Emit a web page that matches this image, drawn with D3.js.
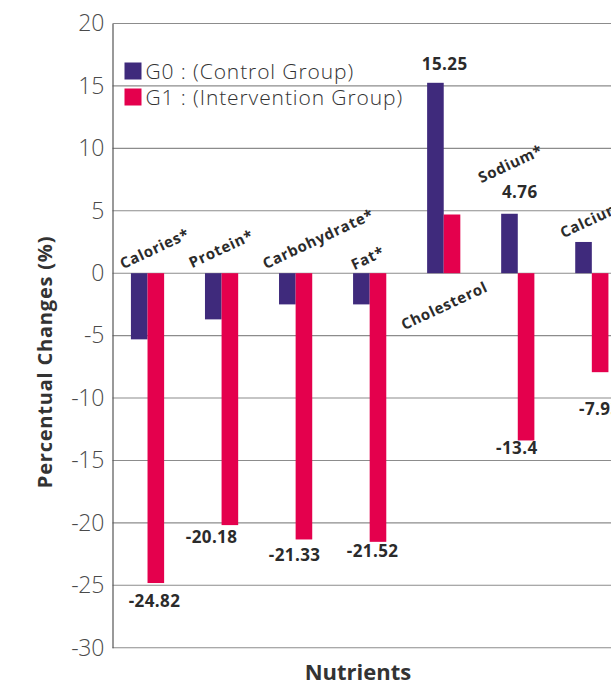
<!DOCTYPE html>
<html>
<head>
<meta charset="utf-8">
<script src="https://cdn.jsdelivr.net/npm/d3@7"></script>
<style>
  html, body { margin: 0; padding: 0; background: #fff; overflow: hidden; }
  svg { display: block; font-family: "Open Sans", "DejaVu Sans", sans-serif; }
</style>
</head>
<body>
<div id="chart"></div>
<script>
// Nutrient intake change (%) by group
const categories = ["Calories*", "Protein*", "Carbohydrate*", "Fat*", "Cholesterol", "Sodium*", "Calcium"];
const groups = ["G0", "G1"];
const groupNames = ["G0 : (Control Group)", "G1 : (Intervention Group)"];
const g0Values = [-5.3, -3.7, -2.5, -2.5, 15.25, 4.76, 2.5];
const g1Values = [-24.82, -20.18, -21.33, -21.52, 4.7, -13.4, -7.93];
// which bars carry a printed value
const g0Labeled = [false, false, false, false, true, true, false];
const g1Labeled = [true, true, true, true, false, true, true];
const yTicks = [20, 15, 10, 5, 0, -5, -10, -15, -20, -25, -30];

const colors = { G0: "#3f2a7c", G1: "#e4004d" };

const W = 611, H = 680;
const plot = { left: 112.5, top: 23.5, bottom: 647.7 };
const step = 74.05;

// plain hyphen for negative numbers
const fmt = v => String(v);

const svg = d3.select("#chart").append("svg")
  .attr("width", W).attr("height", H);

const y = d3.scaleLinear().domain([-30, 20]).range([plot.bottom, plot.top]);
const x0 = d3.scaleBand().domain(categories)
  .range([110.5, 110.5 + step * categories.length]).padding(0);
const x1 = d3.scaleBand().domain(groups)
  .range([0, x0.bandwidth()]).paddingInner(0).paddingOuter(1.23);

// grid lines
svg.append("g")
  .selectAll("line").data(yTicks).join("line")
  .attr("x1", plot.left).attr("x2", W)
  .attr("y1", d => y(d)).attr("y2", d => y(d))
  .attr("stroke", "#8c8c8c").attr("stroke-width", 1.1);

// y axis
const yAxis = svg.append("g")
  .attr("transform", `translate(${plot.left},0)`)
  .call(d3.axisLeft(y).tickValues(yTicks).tickSize(0).tickPadding(8.5).tickFormat(fmt));
yAxis.select(".domain").attr("stroke", "#555").attr("stroke-width", 1.2);
yAxis.selectAll("text")
  .attr("fill", "#4a4a4a")
  .attr("font-family", "'Open Sans', sans-serif")
  .style("font-size", "23px")
  .style("font-weight", "300")
  .style("letter-spacing", "-0.3px");

// bars
const rows = categories.map((c, i) => ({
  cat: c,
  bars: [
    { g: "G0", v: g0Values[i], labeled: g0Labeled[i] },
    { g: "G1", v: g1Values[i], labeled: g1Labeled[i] }
  ]
}));

const gGroups = svg.append("g").selectAll("g").data(rows).join("g")
  .attr("transform", d => `translate(${x0(d.cat)},0)`);

gGroups.selectAll("rect").data(d => d.bars).join("rect")
  .attr("x", d => x1(d.g))
  .attr("width", x1.bandwidth())
  .attr("y", d => y(Math.max(0, d.v)))
  .attr("height", d => Math.abs(y(d.v) - y(0)))
  .attr("fill", d => colors[d.g]);

// value labels: centred on the group, nudged clear of the bar end
const valueNudge = {
  "Calories*|G1": [7, 24], "Protein*|G1": [-10, 18], "Carbohydrate*|G1": [-1, 22],
  "Fat*|G1": [3, 15], "Sodium*|G1": [-1, 14], "Calcium|G1": [8, 43],
  "Cholesterol|G0": [1, -13], "Sodium*|G0": [2, -16]
};
const valueLabels = [];
rows.forEach(r => r.bars.forEach(b => {
  if (b.labeled) valueLabels.push({ cat: r.cat, g: b.g, v: b.v });
}));
svg.append("g").selectAll("text").data(valueLabels).join("text")
  .attr("x", d => x0(d.cat) + x0.bandwidth() / 2 + valueNudge[d.cat + "|" + d.g][0])
  .attr("y", d => y(d.v) + valueNudge[d.cat + "|" + d.g][1])
  .attr("text-anchor", "middle")
  .attr("fill", "#2b2b2b")
  .style("font-size", "17px")
  .style("font-weight", "700")
  .style("letter-spacing", "0.4px")
  .text(d => fmt(d.v));

// rotated category labels
const catOffset = {
  "Calories*": [-24.5, -4], "Protein*": [-29.5, -5], "Carbohydrate*": [-30, -4],
  "Fat*": [-15.5, -3], "Cholesterol": [-39.5, 57], "Sodium*": [-36.5, -90], "Calcium": [-28.5, -35]
};
svg.append("g").selectAll("text").data(categories).join("text")
  .attr("transform", d => {
    const px = x0(d) + x0.bandwidth() / 2 + catOffset[d][0];
    const py = y(0) + catOffset[d][1];
    return `translate(${px},${py}) rotate(-25)`;
  })
  .attr("fill", "#2b2b2b")
  .style("font-size", "15px")
  .style("font-weight", "700")
  .style("letter-spacing", "0.7px")
  .text(d => d);

// legend
const legend = svg.append("g").selectAll("g").data(groups).join("g")
  .attr("transform", (d, i) => `translate(124.5,${62.5 + i * 26})`);
legend.append("rect").attr("width", 17).attr("height", 17).attr("fill", d => colors[d]);
legend.append("text")
  .attr("x", 21).attr("y", 16.5)
  .attr("fill", "#333")
  .style("font-size", "21px")
  .style("font-weight", "300")
  .style("letter-spacing", "0.9px")
  .text((d, i) => groupNames[i]);

// axis titles
svg.append("text")
  .attr("transform", `translate(52,362) rotate(-90)`)
  .attr("text-anchor", "middle")
  .attr("fill", "#333")
  .style("font-size", "20px")
  .style("font-weight", "700")
  .style("letter-spacing", "0.8px")
  .text("Percentual Changes (%)");

svg.append("text")
  .attr("x", 358).attr("y", 680)
  .attr("text-anchor", "middle")
  .attr("fill", "#333")
  .style("font-size", "22px")
  .style("font-weight", "700")
  .text("Nutrients");
</script>
</body>
</html>
